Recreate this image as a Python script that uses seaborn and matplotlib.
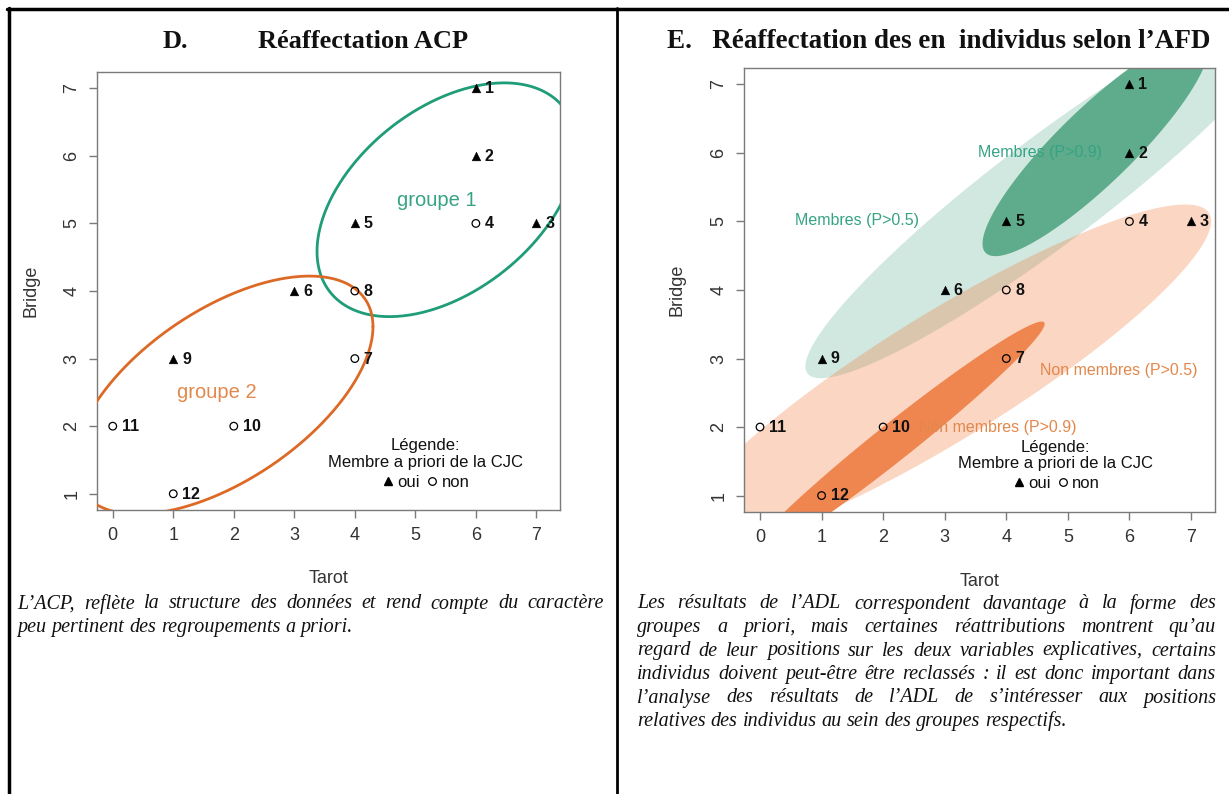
import numpy as np
import pandas as pd
import matplotlib
matplotlib.use("Agg")
import matplotlib.pyplot as plt
import seaborn as sns
from matplotlib.lines import Line2D

# ---------------- data ----------------
ids = ["1", "2", "3", "4", "5", "6", "7", "8", "9", "10", "11", "12"]
tarot = [6, 6, 7, 6, 4, 3, 4, 4, 1, 2, 0, 1]
bridge = [7, 6, 5, 5, 5, 4, 3, 4, 3, 2, 2, 1]
membre = ["oui", "oui", "oui", "non", "oui", "oui", "non", "non", "oui", "non", "non", "non"]

# ACP groups: centre + covariance of the drawn ellipse
acp_labels = ["groupe 1", "groupe 2"]
acp_cx = [5.52, 1.83]
acp_cy = [5.35, 2.46]
acp_cov = [[[4.6, 1.64], [1.64, 2.99]], [[6.1, 2.5], [2.5, 3.1]]]
acp_label_x = [5.36, 1.72]
acp_label_y = [5.34, 2.5]

# AFD regions: centre, semi-axes, angle (data space)
afd_labels = ["Membres (P>0.5)", "Non membres (P>0.5)", "Membres (P>0.9)", "Non membres (P>0.9)"]
afd_cx = [4.7, 3.0, 5.45, 2.2]
afd_cy = [5.45, 2.74, 6.1, 1.8]
afd_a = [4.75, 4.91, 2.37, 2.97]
afd_b = [0.8, 0.95, 0.576, 0.28]
afd_angle = [34.0, 28.8, 40.7, 35.5]
afd_label_x = [1.57, 5.82, 4.55, 3.86]
afd_label_y = [5.02, 2.83, 6.0, 2.0]

xticks = [0, 1, 2, 3, 4, 5, 6, 7]
yticks = [1, 2, 3, 4, 5, 6, 7]

title_d = ("D.", "Réaffectation ACP")
title_e = "E.   Réaffectation des en  individus selon l’AFD"
caption_d = ["L’ACP, reflète la structure des données et rend compte du caractère",
             "peu pertinent des regroupements a priori."]
caption_e = ["Les résultats de l’ADL correspondent davantage à la forme des",
             "groupes a priori, mais certaines réattributions montrent qu’au",
             "regard de leur positions sur les deux variables explicatives, certains",
             "individus doivent peut-être être reclassés : il est donc important dans",
             "l’analyse des résultats de l’ADL de s’intéresser aux positions",
             "relatives des individus au sein des groupes respectifs."]

df = pd.DataFrame({"id": ids, "Tarot": tarot, "Bridge": bridge, "membre": membre})

# ---------------- style ----------------
sns.set_theme(style="white")
plt.rcParams["font.family"] = ["Liberation Sans", "DejaVu Sans"]

W, H = 1229, 794
fig = plt.figure(figsize=(W / 100, H / 100), dpi=100)
fig.patch.set_facecolor("white")

GREEN = "#1f9c78"
ORANGE = "#dc6a26"
TXT_GREEN = "#36a384"
TXT_ORANGE = "#e3884c"

def px_axes(x0, y0, x1, y1):
    return fig.add_axes([x0 / W, 1 - y1 / H, (x1 - x0) / W, (y1 - y0) / H])

axL = px_axes(97, 72, 560, 510)
axR = px_axes(744, 68, 1215, 512)

tt = np.linspace(0, 2 * np.pi, 500)

def cov_ellipse(cx, cy, S):
    L = np.linalg.cholesky(np.array(S, dtype=float))
    p = L @ np.vstack([np.cos(tt), np.sin(tt)])
    return cx + p[0], cy + p[1]

def rot_ellipse(cx, cy, a, b, ang):
    th = np.deg2rad(ang)
    x = cx + a * np.cos(tt) * np.cos(th) - b * np.sin(tt) * np.sin(th)
    y = cy + a * np.cos(tt) * np.sin(th) + b * np.sin(tt) * np.cos(th)
    return x, y

def draw_points(ax):
    oui = df[df.membre == "oui"]
    non = df[df.membre == "non"]
    sns.scatterplot(data=oui, x="Tarot", y="Bridge", marker="^", s=40, color="black",
                    edgecolor="black", linewidth=0.3, ax=ax, zorder=5, legend=False)
    sns.scatterplot(data=non, x="Tarot", y="Bridge", marker="o", s=30, facecolors="none",
                    edgecolor="black", linewidth=0.9, ax=ax, zorder=5, legend=False)
    for _, r in df.iterrows():
        ax.annotate(r["id"], (r["Tarot"], r["Bridge"]), xytext=(6.5, -0.3),
                    textcoords="offset points", ha="left", va="center",
                    fontsize=11.5, fontweight="bold", color="#111111", zorder=6)

def style_axes(ax):
    ax.set_xlim(-0.26, 7.39)
    ax.set_ylim(0.76, 7.24)
    ax.set_xticks(xticks)
    ax.set_yticks(yticks)
    for s in ax.spines.values():
        s.set_visible(True)
        s.set_color("#7a7a7a")
        s.set_linewidth(1.0)
    ax.tick_params(axis="both", which="major", direction="out", length=6, width=1,
                   color="#7a7a7a", labelcolor="#333333", labelsize=13, pad=6,
                   bottom=True, left=True)
    for lab in ax.get_yticklabels():
        lab.set_rotation(90)
        lab.set_va("center")
    ax.set_xlabel("Tarot", fontsize=13, color="#333333")
    ax.set_ylabel("Bridge", fontsize=13, color="#333333")
    ax.xaxis.set_label_coords(0.5, -0.138)
    ax.yaxis.set_label_coords(-0.125, 0.5)
    ax.set_facecolor("white")

def add_legend(ax, cx, cy):
    handles = [Line2D([], [], marker="^", color="black", ls="", markersize=6),
               Line2D([], [], marker="o", markerfacecolor="none", markeredgecolor="black",
                      markeredgewidth=0.9, ls="", markersize=5.5)]
    leg = ax.legend(handles, ["oui", "non"], ncol=2, title="Légende:\nMembre a priori de la CJC",
                    frameon=False, loc="center", bbox_to_anchor=(cx, cy),
                    bbox_transform=ax.transData, fontsize=12, title_fontsize=12,
                    handletextpad=0.1, columnspacing=0.3, handlelength=0.9,
                    borderpad=0, borderaxespad=0, labelspacing=0.3)
    leg.get_title().set_multialignment("center")
    leg.get_title().set_linespacing(1.15)
    leg.get_title().set_color("#111111")
    for t in leg.get_texts():
        t.set_color("#111111")
    leg.set_zorder(7)

# ---------------- left panel (ACP) ----------------
acp_colors = [GREEN, ORANGE]
acp_txt = [TXT_GREEN, TXT_ORANGE]
for i in range(2):
    ex, ey = cov_ellipse(acp_cx[i], acp_cy[i], acp_cov[i])
    axL.plot(ex, ey, color=acp_colors[i], lw=2.0, zorder=3)
    axL.text(acp_label_x[i], acp_label_y[i], acp_labels[i], color=acp_txt[i],
             fontsize=14.5, ha="center", va="center", zorder=4)
draw_points(axL)
style_axes(axL)
add_legend(axL, 5.16, 1.44)

# ---------------- right panel (AFD) ----------------
afd_face = [("#2e9a74", 0.22), ("#f07a3a", 0.30), ("#5eac8c", 1.0), ("#ef8650", 1.0)]
for i in range(4):
    ex, ey = rot_ellipse(afd_cx[i], afd_cy[i], afd_a[i], afd_b[i], afd_angle[i])
    axR.fill(ex, ey, color=afd_face[i][0], alpha=afd_face[i][1], lw=0, zorder=2 + i * 0.1)
afd_txt = [TXT_GREEN, TXT_ORANGE, TXT_GREEN, TXT_ORANGE]
for i in range(4):
    axR.text(afd_label_x[i], afd_label_y[i], afd_labels[i], color=afd_txt[i],
             fontsize=11.5, ha="center", va="center", zorder=4)
draw_points(axR)
style_axes(axR)
add_legend(axR, 4.80, 1.44)

# ---------------- frame lines ----------------
fig.add_artist(Line2D([7 / W, 1], [1 - 8.5 / H] * 2, transform=fig.transFigure, color="black", lw=2.5))
fig.add_artist(Line2D([8.5 / W] * 2, [0, 1 - 7.5 / H], transform=fig.transFigure, color="black", lw=2.5))
fig.add_artist(Line2D([616.5 / W] * 2, [0, 1 - 7.5 / H], transform=fig.transFigure, color="black", lw=2.0))

# ---------------- titles ----------------
serif = ["Liberation Serif", "DejaVu Serif"]
fig.text(163 / W, 1 - 41 / H, title_d[0], family=serif, weight="bold", fontsize=19, va="center", ha="left", color="#111111")
fig.text(258 / W, 1 - 41 / H, title_d[1], family=serif, weight="bold", fontsize=19, va="center", ha="left", color="#111111")
fig.text(667 / W, 1 - 41 / H, title_e, family=serif, weight="bold", fontsize=19.5, va="center", ha="left", color="#111111")

# ---------------- captions (justified) ----------------
renderer = fig.canvas.get_renderer()
cap_kw = dict(family=serif, style="italic", fontsize=14.5, color="#111111", va="center", ha="left")

def text_width(s):
    t = fig.text(0, 0, s, **cap_kw)
    w = t.get_window_extent(renderer).width
    t.remove()
    return w

space_w = text_width("a a") - text_width("aa")

def place_line(line, x0, x1, y, justify):
    words = line.split(" ")
    widths = [text_width(w) for w in words]
    if justify and len(words) > 1:
        gap = (x1 - x0 - sum(widths)) / (len(words) - 1)
    else:
        gap = space_w
    x = x0
    for w, wd in zip(words, widths):
        fig.text(x / W, 1 - y / H, w, **cap_kw)
        x += wd + gap

ys = [604, 627.5, 651, 674.5, 698, 721.5]
for i, line in enumerate(caption_d):
    place_line(line, 17, 604, ys[i], justify=(i < len(caption_d) - 1))
for i, line in enumerate(caption_e):
    place_line(line, 637, 1216, ys[i], justify=(i < len(caption_e) - 1))

fig.savefig("out.png", dpi=100, facecolor="white")
